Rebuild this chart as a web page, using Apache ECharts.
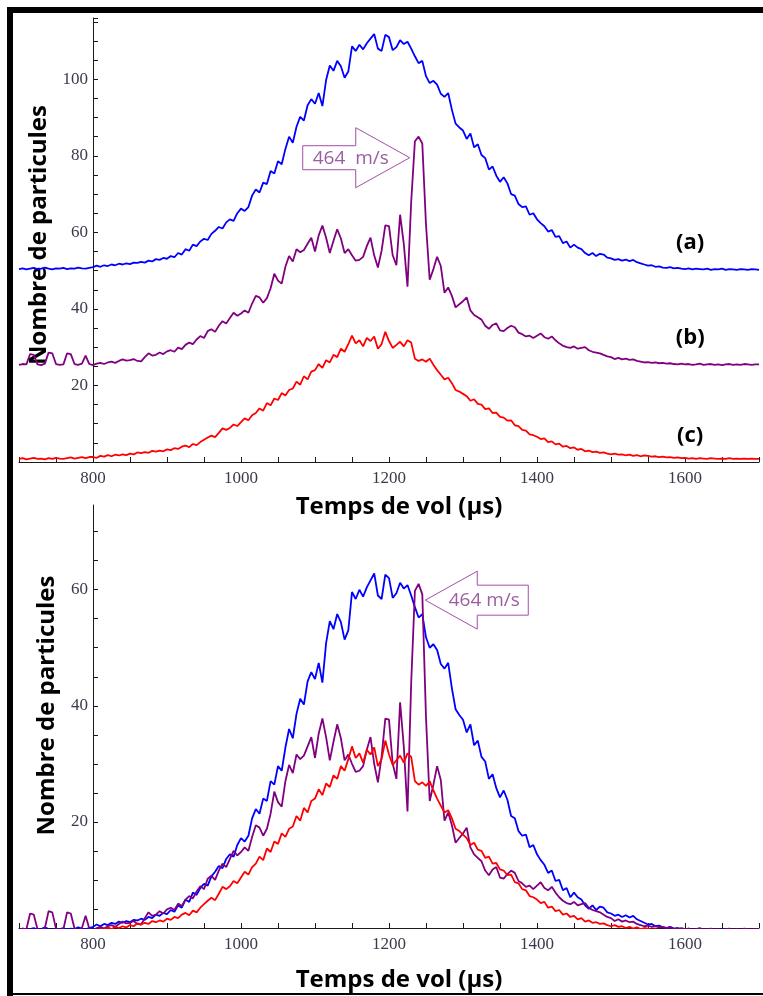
<!DOCTYPE html>
<html>
<head>
<meta charset="utf-8">
<script src="https://cdn.jsdelivr.net/npm/echarts@6/dist/echarts.min.js"></script>
<style>
  html, body { margin: 0; padding: 0; background: #fff; }
  #chart { width: 763px; height: 996px; }
</style>
</head>
<body>
<div id="chart"></div>
<script>
// Time-of-flight sampling grid (µs), one sample every 5 µs from 700 to 1700
const tStart = 700, tStep = 5, tEnd = 1700;
const times = [];
for (let t = tStart; t <= tEnd; t += tStep) times.push(t);

// Particle counts per time bin, one row per 100 µs
const countsA = [
  1.4,1.6,1.3,1.5,1.7,1.4,1.5,1.8,1.5,1.3,1.6,1.5,1.7,1.4,1.6,1.5,1.8,1.6,1.5,1.7,
  1.9,2.3,2.0,2.4,2.2,2.6,2.4,2.8,2.6,2.9,2.7,3.1,3.0,3.3,3.1,3.6,3.4,4.0,3.8,4.3,
  4.1,4.8,4.5,5.6,5.2,6.6,6.2,7.8,7.4,8.6,9.3,9.0,10.6,11.4,12.4,12.0,13.6,14.4,14.0,16.0,
  17.2,16.6,17.6,20.6,22.2,21.4,24.0,23.6,27.0,26.4,29.6,28.8,32.8,36.0,34.4,38.6,41.2,40.2,44.2,45.8,
  44.6,47.4,44.0,50.8,54.6,53.2,55.8,54.4,51.4,53.0,59.6,58.4,60.0,58.8,60.4,61.6,62.8,59.0,58.4,62.6,
  62.0,58.6,59.4,61.2,60.2,60.8,59.0,57.0,55.2,55.8,51.8,50.0,50.6,49.6,47.2,46.4,47.4,43.0,39.4,38.4,
  37.6,35.4,36.8,33.2,34.0,31.2,30.4,27.4,28.2,25.8,24.2,25.4,23.8,21.0,20.6,18.4,17.6,17.8,15.6,16.0,
  14.4,13.4,12.6,11.2,11.6,9.8,10.0,8.2,8.6,7.0,7.8,7.0,6.6,5.6,5.0,5.6,4.8,5.4,5.2,4.4,
  4.2,3.8,4.0,3.6,3.9,3.5,3.8,3.2,2.9,2.6,2.3,2.4,2.0,2.1,1.8,1.7,1.9,1.6,1.7,1.5,
  1.4,1.6,1.3,1.5,1.4,1.3,1.5,1.2,1.4,1.3,1.5,1.2,1.4,1.3,1.2,1.4,1.3,1.2,1.4,1.3,
  1.2
];
const countsB = [
  1.4,1.6,1.5,4.2,4.0,1.5,1.3,1.7,4.6,4.4,1.6,1.4,1.5,4.4,4.2,1.6,1.4,1.7,3.8,1.6,
  1.3,1.7,1.9,1.6,2.0,2.2,1.9,2.4,2.8,2.5,2.6,2.9,2.4,2.3,3.4,4.4,3.8,4.0,4.6,4.2,
  4.9,5.2,4.8,5.9,5.5,6.6,7.2,6.8,8.0,8.9,8.4,10.2,10.7,10.0,11.6,12.8,12.2,13.6,15.0,14.2,
  14.8,15.6,15.0,17.4,19.4,19.0,17.6,18.8,21.4,25.2,23.4,22.6,27.0,29.8,28.4,31.6,30.8,31.4,33.0,34.6,
  31.0,35.2,37.8,34.6,30.6,33.8,36.8,34.4,30.6,31.6,30.0,28.6,28.8,29.6,32.4,34.6,30.0,26.8,31.2,37.8,
  37.6,30.0,27.4,40.6,33.0,21.8,44.0,59.8,61.0,59.2,38.0,23.6,26.4,29.6,27.2,20.2,21.6,19.4,16.4,17.2,
  18.0,19.0,15.6,14.4,13.8,13.2,11.6,10.8,11.8,12.2,10.4,10.2,11.0,11.6,11.2,9.8,9.4,8.8,9.0,8.4,
  9.0,9.6,8.6,8.2,8.8,7.8,7.0,6.4,6.0,5.8,6.2,5.6,5.8,6.0,5.2,4.8,4.6,4.4,4.0,3.6,
  3.4,2.9,3.2,2.8,3.0,2.7,2.8,2.4,2.2,2.0,2.1,1.9,2.0,1.8,1.9,1.7,1.8,1.6,1.5,1.7,
  1.5,1.6,1.4,1.5,1.7,1.4,1.5,1.6,1.4,1.5,1.3,1.5,1.6,1.4,1.5,1.4,1.6,1.5,1.4,1.5,
  1.5
];
const countsC = [
  0.8,1.0,0.7,0.9,1.1,0.8,0.9,0.7,1.0,0.8,1.1,0.9,0.8,1.0,1.2,0.9,1.1,1.3,1.0,1.3,
  1.3,1.1,1.6,1.4,1.8,1.5,1.9,1.7,2.0,1.8,2.2,2.0,2.5,2.3,2.6,2.4,2.9,2.7,3.0,2.8,
  3.3,3.1,3.6,3.4,4.0,4.3,3.9,4.7,4.4,5.2,5.8,6.4,6.9,6.5,7.6,8.8,8.4,8.9,9.8,9.4,
  10.4,11.4,10.9,12.2,12.8,14.0,13.4,15.4,14.8,16.6,16.2,18.0,17.4,18.8,19.2,21.0,20.2,22.4,21.6,23.6,
  24.0,25.6,24.6,26.6,26.0,28.0,27.4,29.6,28.8,30.8,33.0,31.0,31.8,30.2,32.4,31.6,32.8,29.6,30.8,34.0,
  31.6,29.8,30.6,31.4,30.2,31.8,31.2,27.0,26.4,26.8,26.2,27.0,25.4,24.0,22.8,21.6,22.0,20.6,18.8,18.4,
  17.8,17.2,16.0,16.4,15.2,15.0,13.8,14.0,12.8,12.9,11.8,11.6,10.8,10.9,9.6,9.4,8.4,8.2,7.2,7.0,
  6.6,6.0,6.2,5.2,5.4,4.6,4.8,4.0,4.2,3.6,3.8,3.2,3.4,2.8,3.0,2.6,2.7,2.4,2.5,2.2,
  2.0,2.2,1.9,2.0,1.7,1.9,1.6,1.8,1.5,1.7,1.6,1.4,1.5,1.3,1.4,1.2,1.3,1.1,1.2,1.0,
  1.1,0.9,1.0,0.8,1.0,0.9,0.8,1.0,0.9,0.8,0.9,0.8,1.0,0.8,0.9,0.8,0.9,0.8,0.9,0.8,
  0.8
];

const traceNames = ['(a)', '(b)', '(c)'];
const traceColors = ['#0000ff', '#800080', '#ff0000'];
// Vertical shift of each trace in the upper (stacked) panel
const stackOffsets = [49, 24, 0];
// Where the trace tags sit in the upper panel: [time, count]
const tagAnchors = [[1607, 57.2], [1607, 32.4], [1607, 6.8]];

// Axis ticks and labels
const xTickStep = 50;
const xLabelValues = [800, 1000, 1200, 1400, 1600];
const yTopLabelValues = [20, 40, 60, 80, 100];
const yBottomTickValues = [5, 10, 15, 20, 25, 30, 35, 40, 45, 50, 55, 60, 65, 70];
const yBottomLabelValues = [20, 40, 60];

const xTitle = 'Temps de vol (µs)';
const yTitle = 'Nombre de particules';
const peakLabelTop = '464  m/s';
const peakLabelBottom = '464 m/s';
// Arrow tips in data coordinates: [time, count]
const arrowTipTop = [1228, 79.5];
const arrowTipBottom = [1249, 58.2];

const allCounts = [countsA, countsB, countsC];

const tickFont = { fontFamily: 'Liberation Serif', fontSize: 17, color: '#3a3a4c' };
const titleFont = { fontFamily: 'Open Sans', fontWeight: 'bold', fontSize: 24, color: '#000' };
const axisLineStyle = { color: '#1a1a1a', width: 1 };

function xAxisFor(gi, gap) {
  return {
    type: 'value', gridIndex: gi, min: tStart, max: tEnd, interval: xTickStep,
    axisLine: { show: true, onZero: false, lineStyle: axisLineStyle },
    axisTick: { show: true, inside: true, length: 5, lineStyle: axisLineStyle },
    axisLabel: Object.assign({ margin: 8, formatter: v => xLabelValues.includes(v) ? String(v) : '' }, tickFont),
    splitLine: { show: false },
    name: xTitle, nameLocation: 'middle', nameGap: gap,
    nameTextStyle: Object.assign({ padding: [0, 0, 0, 20] }, titleFont)
  };
}

const series = [];
allCounts.forEach((vals, k) => {
  series.push({
    type: 'line', name: traceNames[k], xAxisIndex: 0, yAxisIndex: 0,
    data: times.map((t, i) => [t, vals[i] + stackOffsets[k]]),
    showSymbol: false, symbol: 'none', animation: false, clip: true,
    lineStyle: { color: traceColors[k], width: 1.8 }
  });
});
allCounts.forEach((vals, k) => {
  series.push({
    type: 'line', name: traceNames[k], xAxisIndex: 1, yAxisIndex: 1,
    data: times.map((t, i) => [t, vals[i]]),
    showSymbol: false, symbol: 'none', animation: false, clip: true,
    lineStyle: { color: traceColors[k], width: 1.8 }
  });
});

const chart = echarts.init(document.getElementById('chart'), null, { renderer: 'canvas' });
chart.setOption({
  backgroundColor: '#fff',
  animation: false,
  grid: [
    { left: 19, right: 4, top: 18, height: 444, outerBoundsMode: 'none', containLabel: false },
    { left: 19, right: 4, top: 505, height: 423, outerBoundsMode: 'none', containLabel: false }
  ],
  xAxis: [xAxisFor(0, 33), xAxisFor(1, 40)],
  yAxis: [
    {
      type: 'value', gridIndex: 0, min: 0, max: 116, interval: 5, offset: -74,
      axisLine: { show: true, onZero: false, lineStyle: axisLineStyle },
      axisTick: { show: true, inside: true, length: 5, lineStyle: axisLineStyle },
      axisLabel: Object.assign({ margin: 5, formatter: v => yTopLabelValues.includes(v) ? String(v) : '' }, tickFont),
      splitLine: { show: false },
      name: yTitle, nameLocation: 'middle', nameGap: 34,
      nameTextStyle: Object.assign({ padding: [0, 0, 0, 10] }, titleFont)
    },
    {
      type: 'value', gridIndex: 1, min: 1.7, max: 74.6, offset: -74,
      axisLine: { show: true, onZero: false, lineStyle: axisLineStyle },
      axisTick: { show: true, inside: true, length: 5, lineStyle: axisLineStyle, customValues: yBottomTickValues },
      axisLabel: Object.assign({ margin: 5, customValues: yBottomLabelValues }, tickFont),
      splitLine: { show: false },
      name: yTitle, nameLocation: 'middle', nameGap: 34,
      nameTextStyle: Object.assign({ padding: [0, 0, 0, 22] }, titleFont)
    }
  ],
  series: series
});

// Annotations placed from data coordinates
const arrowStroke = '#a24fa6';
const arrowText = '#9b5ea0';
const g = [];

// Figure frame
g.push({ type: 'rect', shape: { x: 7, y: 7, width: 756, height: 6 }, style: { fill: '#000' }, z: 100 });
g.push({ type: 'rect', shape: { x: 7, y: 7, width: 6, height: 989 }, style: { fill: '#000' }, z: 100 });
g.push({ type: 'rect', shape: { x: 7, y: 993, width: 756, height: 2 }, style: { fill: '#000' }, z: 100 });

tagAnchors.forEach((a, k) => {
  const p = chart.convertToPixel({ gridIndex: 0 }, a);
  g.push({ type: 'text', x: p[0], y: p[1], z: 50,
    style: { text: traceNames[k], fontFamily: 'Open Sans', fontWeight: 'bold', fontSize: 22, fill: '#000', align: 'center', verticalAlign: 'middle' } });
});

const tp = chart.convertToPixel({ gridIndex: 0 }, arrowTipTop);
g.push({ type: 'polygon', z: 60,
  shape: { points: [[tp[0]-107, tp[1]-12], [tp[0]-54, tp[1]-12], [tp[0]-54, tp[1]-30], [tp[0], tp[1]],
                    [tp[0]-54, tp[1]+30], [tp[0]-54, tp[1]+12], [tp[0]-107, tp[1]+12]] },
  style: { fill: 'rgba(255,255,255,0)', stroke: arrowStroke, lineWidth: 1 } });
g.push({ type: 'text', x: tp[0]-59, y: tp[1]+1, z: 61,
  style: { text: peakLabelTop, fontFamily: 'Open Sans', fontSize: 19, fill: arrowText, align: 'center', verticalAlign: 'middle' } });

const bp = chart.convertToPixel({ gridIndex: 1 }, arrowTipBottom);
g.push({ type: 'polygon', z: 60,
  shape: { points: [[bp[0], bp[1]], [bp[0]+52, bp[1]-29], [bp[0]+52, bp[1]-15], [bp[0]+103, bp[1]-15],
                    [bp[0]+103, bp[1]+15], [bp[0]+52, bp[1]+15], [bp[0]+52, bp[1]+29]] },
  style: { fill: 'rgba(255,255,255,0)', stroke: arrowStroke, lineWidth: 1 } });
g.push({ type: 'text', x: bp[0]+59, y: bp[1], z: 61,
  style: { text: peakLabelBottom, fontFamily: 'Open Sans', fontSize: 19, fill: arrowText, align: 'center', verticalAlign: 'middle' } });

chart.setOption({ graphic: g });
</script>
</body>
</html>
